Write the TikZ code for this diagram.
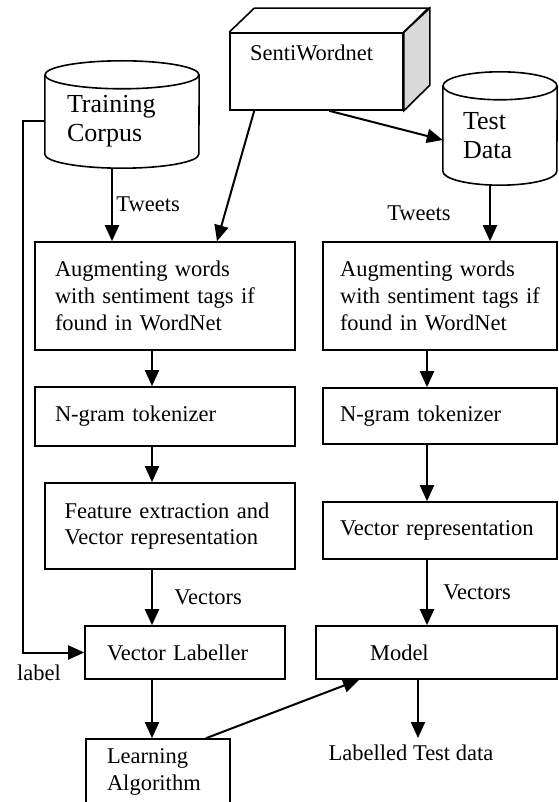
\documentclass[tikz,border=0pt]{standalone}
\usepackage{fontspec}
\setmainfont{Liberation Serif}
\usepackage{tikz}
\usetikzlibrary{arrows.meta}

\tikzset{
  every node/.style={font=\fontsize{22.5}{26.7}\selectfont},
  stage/.style={draw, line width=1.6pt, align=left, inner ysep=0pt},
  store/.style={align=left, inner sep=0pt, font=\fontsize{26}{29}\selectfont},
  flow/.style={line width=2pt, -{Triangle[length=16pt,width=14pt]}},
  plain/.style={line width=1.6pt}
}

\begin{document}
\begin{tikzpicture}[x=1pt, y=-1pt]
  \useasboundingbox (0,0) rectangle (558,802);

  % sources
  \node[store, minimum width=154pt, minimum height=93pt, text width=110pt] (tc) at (122,121.5) {Training\\Corpus};
  \draw[plain] (tc.north west) -- ([yshift=14pt]tc.south west)
    arc[start angle=180, end angle=360, x radius=77pt, y radius=14pt] -- (tc.north east);
  \draw[plain] (tc.north) ellipse[x radius=77pt, y radius=14pt];

  \node[store, minimum width=114pt, minimum height=99pt, text width=74pt] (td) at (500,135.5) {Test\\Data};
  \draw[plain] (td.north west) -- ([yshift=14pt]td.south west)
    arc[start angle=180, end angle=360, x radius=57pt, y radius=14pt] -- (td.north east);
  \draw[plain] (td.north) ellipse[x radius=57pt, y radius=14pt];

  \node[draw, line width=1.6pt, minimum width=173pt, minimum height=77pt, inner ysep=0pt,
        text width=133pt, text height=28pt, text depth=49pt] (sw) at (316.5,71.5) {SentiWordnet};
  \draw[plain, fill=gray!30] (sw.north east) -- ++(26,-24) -- ++(0,77) -- (sw.south east) -- cycle;
  \draw[plain] (sw.north west) -- ++(25,-24) -- ++(174,0) -- (sw.north east);

  % training branch
  \node[stage, minimum width=260pt, minimum height=108pt, text width=220pt] (augL) at (165,296)
    {Augmenting words\\with sentiment tags if\\found in WordNet};
  \node[stage, minimum width=260pt, minimum height=59pt, text width=220pt] (ngL) at (165,416.5) {N-gram tokenizer};
  \node[stage, minimum width=250pt, minimum height=86pt, text width=211pt] (feat) at (170,526)
    {Feature extraction and\\Vector representation};
  \node[stage, minimum width=200pt, minimum height=53pt, text width=156pt] (vl) at (185,652.5) {Vector Labeller};
  \node[stage, minimum width=144pt, minimum height=66pt, text width=102pt] (la) at (158,772) {Learning\\Algorithm};

  % test branch
  \node[stage, minimum width=234pt, minimum height=108pt, text width=200pt] (augR) at (440,296)
    {Augmenting words\\with sentiment tags if\\found in WordNet};
  \node[stage, minimum width=234pt, minimum height=56pt, text width=200pt] (ngR) at (440,416) {N-gram tokenizer};
  \node[stage, minimum width=234pt, minimum height=57pt, text width=200pt] (vr) at (440,530.5) {Vector representation};
  \node[stage, minimum width=241pt, minimum height=53pt, text width=133pt] (model) at (436.5,652.5) {Model};
  \node[anchor=north, inner ysep=7pt] (ltd) at (411,738) {Labelled Test data};
  \node (lbl) at (39,673) {label};

  \draw[flow] ([xshift=-10pt]tc.south) -- node[right] {Tweets} ([xshift=-53pt]augL.north);
  \draw[flow] ([xshift=25pt]sw.south west) -- ([xshift=52pt]augL.north);
  \draw[flow] ([xshift=100pt]sw.south west) -- ([yshift=-4.5pt]td.west);
  \draw[flow] ([xshift=-10pt]td.south) -- node[left, xshift=-35pt] {Tweets} ([xshift=50pt]augR.north);
  \draw[flow] ([xshift=-13pt]augL.south) -- ([xshift=-13pt]ngL.north);
  \draw[flow] ([xshift=-13pt]ngL.south) -- ([xshift=-18pt]feat.north);
  \draw[flow] ([xshift=-18pt]feat.south) -- node[right, xshift=18pt] {Vectors} ([xshift=-33pt]vl.north);
  \draw[flow] ([xshift=-33pt]vl.south) -- ([xshift=-6pt]la.north);
  \draw[flow] ([xshift=48pt]la.north) -- ([xshift=-77.5pt]model.south);
  \draw[flow] ([xshift=-13pt]augR.south) -- ([xshift=-13pt]ngR.north);
  \draw[flow] ([xshift=-13pt]ngR.south) -- ([xshift=-13pt]vr.north);
  \draw[flow] ([xshift=-13pt]vr.south) -- node[right, xshift=12pt] {Vectors} ([xshift=-9.5pt]model.north);
  \draw[flow] ([xshift=-18.5pt]model.south) -- ([xshift=7pt]ltd.north);
  \draw[flow] (tc.west) -- ++(-22,0) |- (vl.west);
\end{tikzpicture}
\end{document}
